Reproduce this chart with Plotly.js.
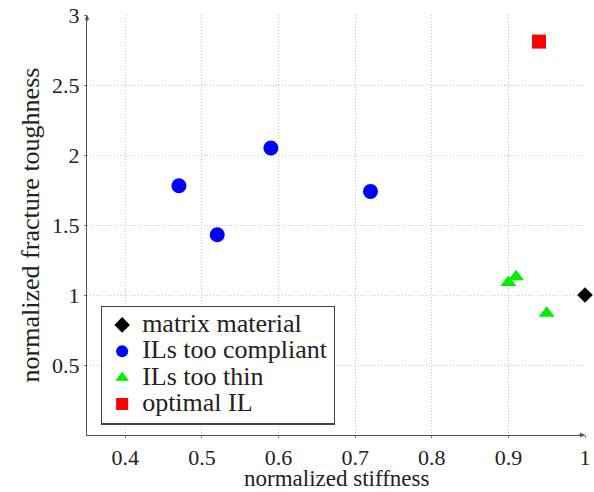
<!DOCTYPE html>
<html>
<head>
<meta charset="utf-8">
<script src="https://cdn.plot.ly/plotly-3.0.1.min.js"></script>
<style>html,body{margin:0;padding:0;background:#fff;}#chart{width:594px;height:492px;}</style>
</head>
<body>
<div id="chart"></div>
<script>
const seriesNames = ["matrix material", "ILs too compliant", "ILs too thin", "optimal IL"];
const matrixX = [1.0];
const matrixY = [1.0];
const compliantX = [0.47, 0.52, 0.59, 0.72];
const compliantY = [1.78, 1.43, 2.05, 1.74];
const thinX = [0.90, 0.91, 0.95];
const thinY = [1.09, 1.13, 0.87];
const optimalX = [0.94];
const optimalY = [2.81];
const xTicks = [0.4, 0.5, 0.6, 0.7, 0.8, 0.9, 1];
const yTicks = [0.5, 1, 1.5, 2, 2.5, 3];
const xTitle = "normalized stiffness";
const yTitle = "normalized fracture toughness";

const font = "Liberation Serif";
const legendName = n => '<span style="font-size:26px">' + n + '</span>';
const traces = [
  {x: matrixX, y: matrixY, name: legendName(seriesNames[0]), mode: "markers", type: "scatter",
   marker: {symbol: "diamond", size: 12, color: "#000"}, cliponaxis: false},
  {x: compliantX, y: compliantY, name: legendName(seriesNames[1]), mode: "markers", type: "scatter",
   marker: {symbol: "circle", size: 15, color: "#0000ff"}, cliponaxis: false},
  {x: thinX, y: thinY, name: legendName(seriesNames[2]), mode: "markers", type: "scatter",
   marker: {symbol: "triangle-up", size: 14, color: "#00ee00"}, cliponaxis: false},
  {x: optimalX, y: optimalY, name: legendName(seriesNames[3]), mode: "markers", type: "scatter",
   marker: {symbol: "square", size: 14, color: "#ff0000"}, cliponaxis: false}
];

const axisCommon = {
  showgrid: true, gridcolor: "#c8c8c8", griddash: "1px,2px", gridwidth: 1,
  showline: true, linecolor: "#555", linewidth: 1.2,
  ticks: "outside", ticklen: 2, tickcolor: "#777",
  zeroline: false, tickfont: {family: font, size: 22, color: "#222"}
};

const layout = {
  width: 594, height: 492,
  margin: {l: 87, r: 9, t: 15, b: 57},
  paper_bgcolor: "#fff", plot_bgcolor: "#fff",
  font: {family: font, color: "#222"},
  showlegend: true,
  legend: {x: 0.028, y: 0.025, xanchor: "left", yanchor: "bottom",
    bordercolor: "#444", borderwidth: 1.2, bgcolor: "#fff",
    font: {family: font, size: 18, color: "#222"}, itemsizing: "constant", tracegroupgap: 0},
  xaxis: Object.assign({}, axisCommon, {
    range: [0.35, 1.0], tickvals: xTicks, ticktext: xTicks.map(String)
  }),
  yaxis: Object.assign({}, axisCommon, {
    range: [0, 3], tickvals: yTicks, ticktext: yTicks.map(String),
    title: {text: yTitle, font: {family: font, size: 26, color: "#222"}, standoff: 4}
  }),
  annotations: [
    {xref: "paper", yref: "paper", x: 0.5, y: 0, xanchor: "center", yanchor: "bottom", yshift: -57,
     borderpad: 0, showarrow: false, text: xTitle, font: {family: font, size: 23, color: "#222"}},
    {xref: "paper", yref: "paper", x: 1, y: 0, ax: -8, ay: 0, axref: "pixel", ayref: "pixel",
     showarrow: true, arrowhead: 2, arrowsize: 0.8, arrowwidth: 1.2, arrowcolor: "#555", text: ""},
    {xref: "paper", yref: "paper", x: 0, y: 1, ax: 0, ay: 8, axref: "pixel", ayref: "pixel",
     showarrow: true, arrowhead: 2, arrowsize: 0.8, arrowwidth: 1.2, arrowcolor: "#555", text: ""}
  ]
};

Plotly.newPlot("chart", traces, layout, {displayModeBar: false, staticPlot: true});
</script>
</body>
</html>
